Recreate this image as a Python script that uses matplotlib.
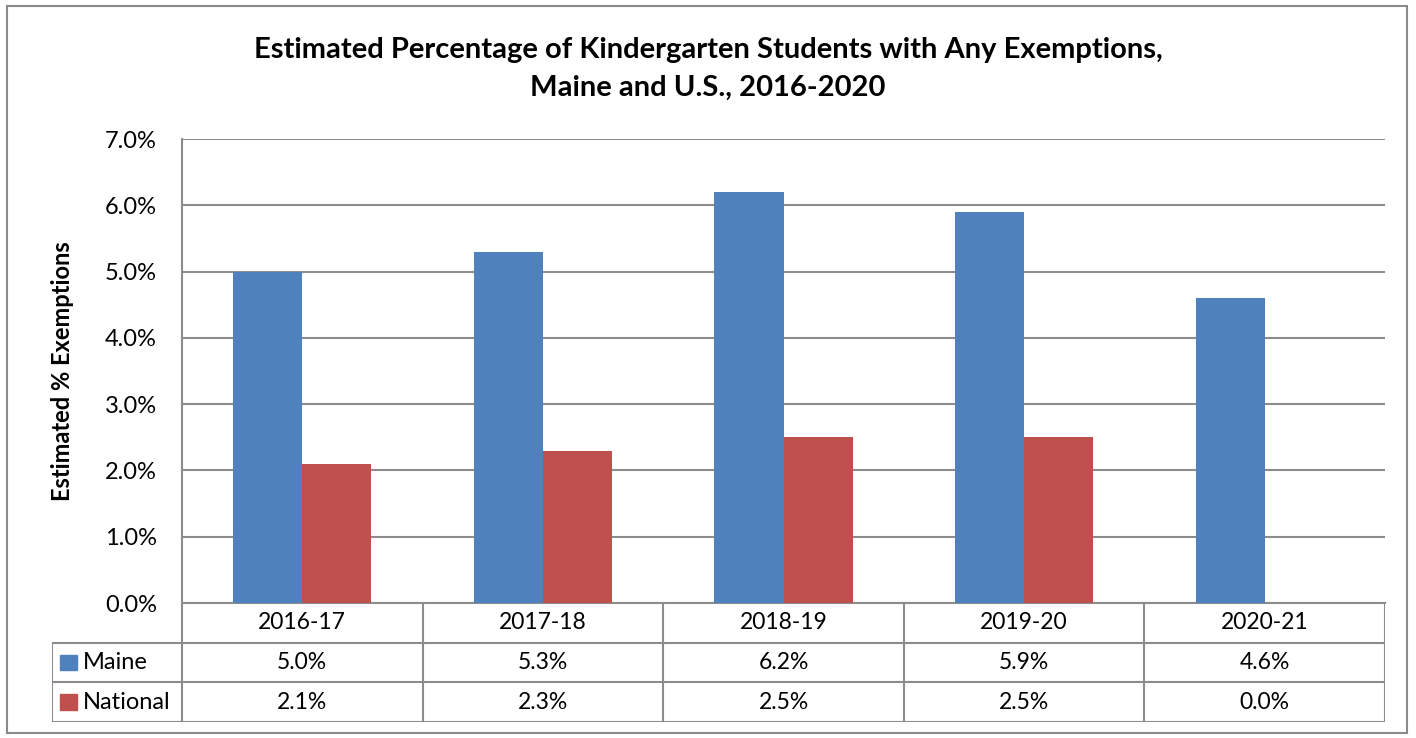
import numpy as np
import matplotlib
matplotlib.use("Agg")
from matplotlib import pyplot as plt
from matplotlib.patches import Rectangle

# data
years = ["2016-17", "2017-18", "2018-19", "2019-20", "2020-21"]
maine = [5.0, 5.3, 6.2, 5.9, 4.6]
national = [2.1, 2.3, 2.5, 2.5, 0.0]
yticks = [0, 1, 2, 3, 4, 5, 6, 7]

blue = "#4F81BD"
red = "#C0504D"
grid_col = "#8C8C8C"

plt.rcParams['font.family'] = ['Lato', 'DejaVu Sans']

W, H = 1416, 738
fig = plt.figure(figsize=(W / 100, H / 100), dpi=100)


def px(x0, y0, x1, y1):
	# pixel box (top-left origin) -> figure fraction rect
	return [x0 / W, 1 - y1 / H, (x1 - x0) / W, (y1 - y0) / H]


# outer chart border
fig.patches.append(Rectangle((7 / W, 1 - 733 / H), 1400 / W, 727 / H,
	transform=fig.transFigure, fill=False, edgecolor="#8A8A8A", lw=1.5))

# plot area
left, right, top, bottom = 182, 1385, 139, 603
ax = fig.add_axes(px(left, top, right, bottom))
x = np.arange(len(years))
bw = 0.287
ax.bar(x - bw / 2, maine, bw, color=blue, zorder=3)
ax.bar(x + bw / 2, national, bw, color=red, zorder=3)
ax.set_xlim(-0.5, len(years) - 0.5)
ax.set_ylim(0, 7)
ax.set_yticks(yticks)
ax.set_yticklabels(["%.1f%%" % v for v in yticks], fontsize=17)
ax.tick_params(axis='y', length=0, pad=18)
ax.set_xticks([])
ax.yaxis.grid(True, color=grid_col, lw=1.5, zorder=0)
for s in ax.spines.values():
	s.set_color(grid_col)
	s.set_linewidth(1.5)
ax.spines['right'].set_visible(False)
ax.spines['top'].set_visible(False)
ax.set_ylabel("Estimated % Exemptions", fontsize=17, fontweight='bold', labelpad=22)

fig.text(708 / W, 1 - 50 / H,
	"Estimated Percentage of Kindergarten Students with Any Exemptions,",
	ha='center', va='center', fontsize=21, fontweight='bold')
fig.text(708 / W, 1 - 88 / H, "Maine and U.S., 2016-2020",
	ha='center', va='center', fontsize=21, fontweight='bold')

# data table under the plot
tl = 52
tab = fig.add_axes(px(tl, bottom, right, 722))
colw = (right - left) / len(years)
x0 = -0.5 - (left - tl) / colw
tab.set_xlim(x0, len(years) - 0.5)
tab.set_ylim(3, 0)
tab.axis('off')
lc = dict(color=grid_col, lw=1.5, solid_capstyle='projecting')
# horizontal lines
tab.plot([x0, len(years) - 0.5], [1, 1], **lc)
tab.plot([x0, len(years) - 0.5], [2, 2], **lc)
tab.plot([x0, len(years) - 0.5], [3, 3], **lc)
# vertical lines
tab.plot([x0, x0], [1, 3], **lc)
for i in range(len(years) + 1):
	tab.plot([i - 0.5, i - 0.5], [0, 3], **lc)

for i, yr in enumerate(years):
	tab.text(i, 0.5, yr, ha='center', va='center', fontsize=16.5)
	tab.text(i, 1.5, "%.1f%%" % maine[i], ha='center', va='center', fontsize=16.5)
	tab.text(i, 2.5, "%.1f%%" % national[i], ha='center', va='center', fontsize=16.5)

for row, (name, col) in enumerate([("Maine", blue), ("National", red)]):
	yy = 1.5 + row
	tab.add_patch(Rectangle((x0 + 0.035, yy - 0.2), 0.07, 0.4, color=col, clip_on=False))
	tab.text(x0 + 0.13, yy, name, ha='left', va='center', fontsize=17)

fig.savefig("out.png", dpi=100)
